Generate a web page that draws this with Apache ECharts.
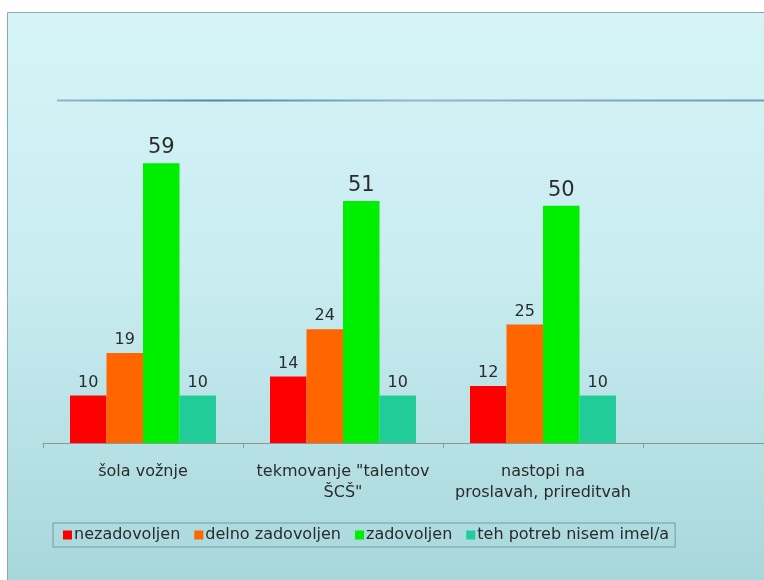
<!DOCTYPE html>
<html>
<head>
<meta charset="utf-8">
<script src="https://cdn.jsdelivr.net/npm/echarts@6/dist/echarts.min.js"></script>
<style>
  html, body { margin: 0; padding: 0; background: #fff; overflow: hidden; width: 764px; height: 580px; }
  /* graf je širši od okna, četrta (prazna) kategorija sega čez desni rob */
  #main { width: 844px; height: 580px; }
</style>
</head>
<body>
<div id="main"></div>
<script>
// kategorije (zadnja je prazna, graf sega čez desni rob)
var categories = ['šola vožnje', 'tekmovanje "talentov\nŠCŠ"', 'nastopi na\nproslavah, prireditvah', ''];
var seriesNames = ['nezadovoljen', 'delno zadovoljen', 'zadovoljen', 'teh potreb nisem imel/a'];
var nezadovoljen = [10, 14, 12, null];
var delnoZadovoljen = [19, 24, 25, null];
var zadovoljen = [59, 51, 50, null];
var nisemImel = [10, 10, 10, null];
var colors = ['#ff0000', '#ff6600', '#00ee00', '#22cc99'];

var chart = echarts.init(document.getElementById('main'));

var values = [nezadovoljen, delnoZadovoljen, zadovoljen, nisemImel];
var series = values.map(function (data, i) {
  return {
    name: seriesNames[i],
    type: 'bar',
    data: data,
    barGap: 0,
    barCategoryGap: '27%',
    itemStyle: { color: colors[i] },
    label: {
      show: true,
      position: 'top',
      distance: 5,
      color: '#2b2b2b',
      fontFamily: 'DejaVu Sans',
      fontSize: i === 2 ? 21 : 16
    }
  };
});

var option = {
  backgroundColor: '#ffffff',
  animation: false,
  graphic: [
    {
      type: 'rect',
      z: -10,
      shape: { x: 7.5, y: 12.5, width: 900, height: 600 },
      style: {
        fill: new echarts.graphic.LinearGradient(0, 0, 0, 1, [
          { offset: 0, color: '#d6f4f8' },
          { offset: 0.45, color: '#c8ecf0' },
          { offset: 1, color: '#a4d5d9' }
        ]),
        stroke: '#8aaab2',
        lineWidth: 1
      }
    },
    {
      type: 'line',
      z: -5,
      shape: { x1: 57, y1: 100.5, x2: 844, y2: 100.5 },
      style: {
        stroke: new echarts.graphic.LinearGradient(0, 0, 1, 0, [
          { offset: 0, color: '#8fb8cc' },
          { offset: 0.2, color: '#4f86aa' },
          { offset: 0.45, color: '#8fb8cc' },
          { offset: 0.9, color: '#6f9cb8' },
          { offset: 1, color: '#6f9cb8' }
        ]),
        lineWidth: 2
      }
    }
  ],
  legend: {
    data: seriesNames,
    left: 53,
    top: 523,
    padding: [4, 6, 4, 10],
    itemWidth: 9,
    itemHeight: 9,
    itemGap: 14,
    icon: 'rect',
    borderColor: '#7a9aa2',
    borderWidth: 1,
    textStyle: {
      fontFamily: 'DejaVu Sans',
      fontSize: 16,
      color: '#2b2b2b',
      padding: [0, 0, 0, -3]
    }
  },
  grid: {
    left: 43,
    right: 1,
    top: 111,
    bottom: 137,
    containLabel: false
  },
  xAxis: {
    type: 'category',
    data: categories,
    axisLine: { lineStyle: { color: '#8a9a9c', width: 1 } },
    axisTick: { show: true, length: 5, lineStyle: { color: '#8a9a9c' } },
    axisLabel: {
      margin: 18,
      color: '#2b2b2b',
      fontFamily: 'DejaVu Sans',
      fontSize: 16,
      lineHeight: 21,
      interval: 0
    }
  },
  yAxis: {
    type: 'value',
    min: 0,
    max: 70,
    show: false,
    splitLine: { show: false }
  },
  series: series
};

chart.setOption(option);
</script>
</body>
</html>
